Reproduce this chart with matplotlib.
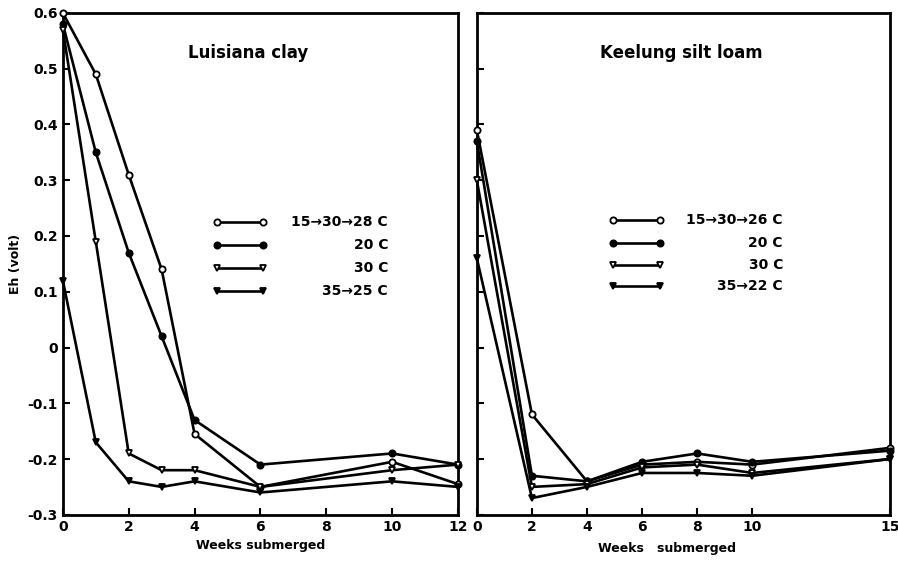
import numpy as np
import matplotlib.pyplot as plt

# Luisiana clay
weeks_clay = [0, 1, 2, 3, 4, 6, 10, 12]
clay_15_30_28 = [0.60, 0.49, 0.31, 0.14, -0.155, -0.25, -0.205, -0.245]
clay_20 = [0.58, 0.35, 0.17, 0.02, -0.13, -0.21, -0.19, -0.21]
clay_30 = [0.57, 0.19, -0.19, -0.22, -0.22, -0.25, -0.22, -0.21]
clay_35_25 = [0.12, -0.17, -0.24, -0.25, -0.24, -0.26, -0.24, -0.25]
clay_labels = ["15→30→28 C", "20 C", "30 C", "35→25 C"]

# Keelung silt loam
weeks_loam = [0, 2, 4, 6, 8, 10, 15]
loam_15_30_26 = [0.39, -0.12, -0.24, -0.21, -0.205, -0.21, -0.18]
loam_20 = [0.37, -0.23, -0.24, -0.205, -0.19, -0.205, -0.185]
loam_30 = [0.30, -0.25, -0.245, -0.215, -0.21, -0.225, -0.20]
loam_35_22 = [0.16, -0.27, -0.25, -0.225, -0.225, -0.23, -0.20]
loam_labels = ["15→30→26 C", "20 C", "30 C", "35→22 C"]

y_ticks = [-0.3, -0.2, -0.1, 0, 0.1, 0.2, 0.3, 0.4, 0.5, 0.6]
y_ticklabels = ["-0.3", "-0.2", "-0.1", "0", "0.1", "0.2", "0.3", "0.4", "0.5", "0.6"]

# marker, face colour for each series
styles = [("o", "white"), ("o", "black"), ("v", "white"), ("v", "black")]

plt.rcParams['font.family'] = ['DejaVu Sans']
plt.rcParams['font.weight'] = 'bold'
plt.rcParams['axes.labelweight'] = 'bold'

fig = plt.figure(figsize=(8.98, 5.62), dpi=100)
ax1 = fig.add_axes([0.070, 0.084, 0.440, 0.893])
ax2 = fig.add_axes([0.531, 0.084, 0.460, 0.893])


def draw_panel(ax, weeks, series, labels, title, title_x, leg_x0, leg_x1, leg_text_x, leg_rows):
    for ys, (m, fc) in zip(series, styles):
        ax.plot(weeks, ys, color='black', lw=1.9, marker=m, ms=4.5, mfc=fc, mec='black', mew=1.3,
                clip_on=False, zorder=3)
    ax.text(title_x, 0.92, title, transform=ax.transAxes, ha='center', va='center', fontsize=12)
    for (m, fc), lab, ry in zip(styles, labels, leg_rows):
        ax.plot([leg_x0, leg_x1], [ry, ry], transform=ax.transAxes, color='black', lw=1.9,
                marker=m, ms=4.5, mfc=fc, mec='black', mew=1.3)
        ax.text(leg_text_x, ry, lab, transform=ax.transAxes, ha='right', va='center', fontsize=10)
    ax.set_ylim(-0.3, 0.6)
    ax.set_yticks(y_ticks)
    ax.tick_params(direction='in', length=5, width=1.5, labelsize=10)
    for s in ax.spines.values():
        s.set_linewidth(2)


draw_panel(ax1, weeks_clay, [clay_15_30_28, clay_20, clay_30, clay_35_25], clay_labels,
           "Luisiana clay", 0.468, 0.39, 0.506, 0.823, [0.584, 0.538, 0.492, 0.446])
ax1.set_xlim(0, 12)
ax1.set_xticks([0, 2, 4, 6, 8, 10, 12])
ax1.set_yticklabels(y_ticklabels)
ax1.set_xlabel("Weeks submerged", fontsize=9, labelpad=4)
ax1.set_ylabel("Eh (volt)", fontsize=9, labelpad=4)

draw_panel(ax2, weeks_loam, [loam_15_30_26, loam_20, loam_30, loam_35_22], loam_labels,
           "Keelung silt loam", 0.496, 0.329, 0.443, 0.741, [0.588, 0.542, 0.498, 0.456])
ax2.set_xlim(0, 15)
ax2.set_xticks([0, 2, 4, 6, 8, 10, 15])
ax2.set_yticklabels([])
ax2.set_xlabel("Weeks   submerged", fontsize=9, labelpad=4)
ax2.xaxis.set_label_coords(0.46, -0.055)

fig.savefig("out.png", dpi=100)
